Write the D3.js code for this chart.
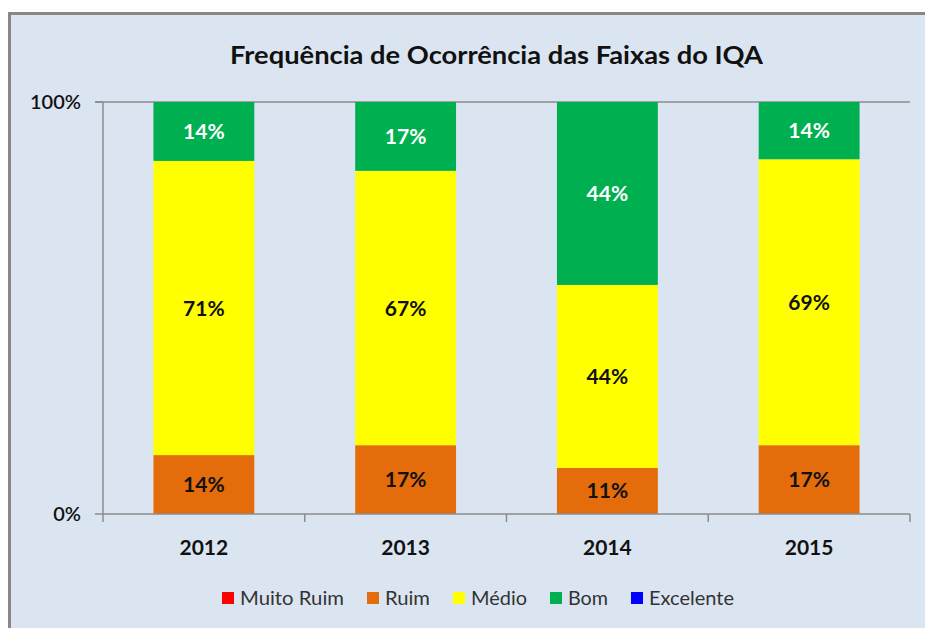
<!DOCTYPE html>
<html>
<head>
<meta charset="utf-8">
<script src="https://cdn.jsdelivr.net/npm/d3@7"></script>
<style>
  html, body { margin: 0; padding: 0; background: #ffffff; }
  svg { display: block; }
  text { font-family: Lato, "Open Sans", sans-serif; }
</style>
</head>
<body>
<div id="chart"></div>
<script>
var years = ["2012", "2013", "2014", "2015"]
var categories = ["Muito Ruim", "Ruim", "Médio", "Bom", "Excelente"]
var muitoRuim = [0, 0, 0, 0]
var ruim = [14.3, 16.7, 11.2, 16.7]
var medio = [71.4, 66.6, 44.4, 69.4]
var bom = [14.3, 16.7, 44.4, 13.9]
var excelente = [0, 0, 0, 0]
var yTicks = [0, 100]
var colors = ["#ff0000", "#e46c0a", "#ffff00", "#00b050", "#0000ff"]

function drawChart() {
  var width = 926
  var height = 628
  var plot = { left: 103, right: 910, top: 102, bottom: 514 }

  var rows = years.map((y, i) => ({
    year: y,
    "Muito Ruim": muitoRuim[i],
    "Ruim": ruim[i],
    "Médio": medio[i],
    "Bom": bom[i],
    "Excelente": excelente[i]
  }))

  var series = d3.stack().keys(categories)(rows)

  var svg = d3.select("#chart").append("svg")
    .attr("width", width)
    .attr("height", height)

  // chart area with grey frame on top/left
  svg.append("rect")
    .attr("x", 9).attr("y", 13)
    .attr("width", width - 10).attr("height", height - 13)
    .attr("fill", "#dbe5f1")
  svg.append("path")
    .attr("d", "M9.5," + height + "V13.5H" + (width - 1))
    .attr("fill", "none")
    .attr("stroke", "#878787")
    .attr("stroke-width", 3)

  var xScale = d3.scaleBand()
    .domain(years)
    .range([plot.left, plot.right])
    .paddingInner(0.5)
    .paddingOuter(0.25)

  var yScale = d3.scaleLinear()
    .domain([0, 100])
    .range([plot.bottom, plot.top])

  var colorScale = d3.scaleOrdinal().domain(categories).range(colors)

  // top gridline
  svg.append("line")
    .attr("x1", plot.left - 8).attr("x2", plot.right)
    .attr("y1", yScale(100)).attr("y2", yScale(100))
    .attr("stroke", "#8c8c8c").attr("stroke-width", 1.5)

  // bars
  var layer = svg.selectAll(".layer")
    .data(series).enter()
    .append("g")
    .attr("class", "layer")
    .attr("fill", d => colorScale(d.key))

  layer.selectAll("rect")
    .data(d => d).enter()
    .append("rect")
    .attr("x", d => xScale(d.data.year))
    .attr("width", xScale.bandwidth())
    .attr("y", d => yScale(d[1]))
    .attr("height", d => yScale(d[0]) - yScale(d[1]))

  // value labels
  series.forEach(s => {
    s.forEach(d => {
      var v = d[1] - d[0]
      if (v <= 0) return
      svg.append("text")
        .attr("x", xScale(d.data.year) + xScale.bandwidth() / 2)
        .attr("y", (yScale(d[0]) + yScale(d[1])) / 2)
        .attr("dy", "0.36em")
        .attr("text-anchor", "middle")
        .attr("font-size", 21)
        .attr("font-weight", "bold")
        .attr("fill", s.key == "Bom" ? "#ffffff" : "#111111")
        .text(Math.round(v) + "%")
    })
  })

  // y axis
  svg.append("line")
    .attr("x1", plot.left).attr("x2", plot.left)
    .attr("y1", plot.top).attr("y2", plot.bottom)
    .attr("stroke", "#8c8c8c").attr("stroke-width", 1.5)

  svg.selectAll(".ytick")
    .data(yTicks).enter()
    .append("line")
    .attr("x1", plot.left - 8).attr("x2", plot.left)
    .attr("y1", d => yScale(d)).attr("y2", d => yScale(d))
    .attr("stroke", "#8c8c8c").attr("stroke-width", 1.5)

  svg.selectAll(".ylabel")
    .data(yTicks).enter()
    .append("text")
    .attr("x", 81)
    .attr("y", d => yScale(d))
    .attr("dy", "0.36em")
    .attr("text-anchor", "end")
    .attr("font-size", 20)
    .attr("font-weight", 600)
    .attr("fill", "#111111")
    .text(d => d + "%")

  // x axis
  svg.append("line")
    .attr("x1", plot.left).attr("x2", plot.right)
    .attr("y1", plot.bottom).attr("y2", plot.bottom)
    .attr("stroke", "#8c8c8c").attr("stroke-width", 1.5)

  var boundaries = d3.range(years.length + 1).map(i => plot.left + i * xScale.step())
  svg.selectAll(".xtick")
    .data(boundaries).enter()
    .append("line")
    .attr("x1", d => d).attr("x2", d => d)
    .attr("y1", plot.bottom).attr("y2", plot.bottom + 8)
    .attr("stroke", "#8c8c8c").attr("stroke-width", 1.5)

  svg.selectAll(".xlabel")
    .data(years).enter()
    .append("text")
    .attr("x", d => xScale(d) + xScale.bandwidth() / 2)
    .attr("y", 547)
    .attr("dy", "0.36em")
    .attr("text-anchor", "middle")
    .attr("font-size", 21)
    .attr("font-weight", "bold")
    .attr("fill", "#111111")
    .text(d => d)

  // title
  svg.append("text")
    .attr("x", 496.5)
    .attr("y", 64)
    .attr("text-anchor", "middle")
    .attr("font-size", 24)
    .attr("font-weight", "bold")
    .attr("fill", "#111111")
    .attr("textLength", 533)
    .attr("lengthAdjust", "spacingAndGlyphs")
    .text("Frequência de Ocorrência das Faixas do IQA")

  // legend
  var legendX = [222, 367, 453, 550, 631]
  var legendW = [104, 45, 56, 40, 85]
  var legend = svg.selectAll(".legend")
    .data(categories).enter()
    .append("g")
    .attr("class", "legend")
    .attr("transform", (d, i) => "translate(" + legendX[i] + ",598)")

  legend.append("rect")
    .attr("x", 0).attr("y", -6)
    .attr("width", 12).attr("height", 12)
    .attr("fill", d => colorScale(d))

  legend.append("text")
    .attr("x", 18)
    .attr("y", 0)
    .attr("dy", "0.36em")
    .attr("font-size", 19)
    .attr("fill", "#333333")
    .attr("textLength", (d, i) => legendW[i])
    .attr("lengthAdjust", "spacingAndGlyphs")
    .text(d => d)
}
drawChart()
</script>
</body>
</html>
